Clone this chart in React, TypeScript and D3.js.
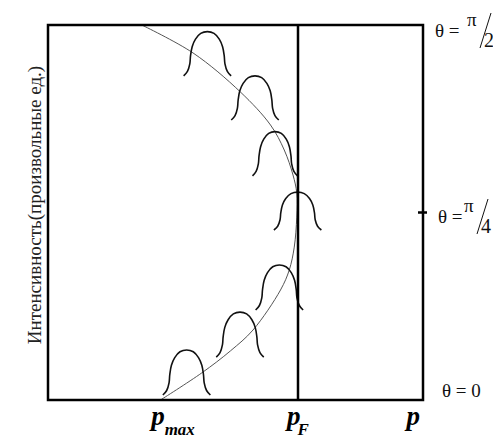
import React from 'react';
import * as d3 from 'd3';

const W = 493;
const H = 439;
const margin = { top: 25, right: 70, bottom: 39, left: 48 };

// thin grey curve: momentum p against angle theta (degrees)
const curveP = [0.75, 1.16, 1.54, 1.78, 1.89, 1.96, 1.99, 1.99, 1.97, 1.93, 1.86, 1.64, 1.46, 1.23, 0.9];
const curveTheta = [90, 83.3, 73.9, 66, 60, 54, 49.7, 43.9, 36.7, 31.2, 26.4, 16.8, 11.8, 6.5, 0];

// bell shaped intensity profiles
const peakP = [1.275, 1.656, 1.816, 1.997, 1.851, 1.536, 1.109];
const peakTheta = [77.8, 67.2, 53.8, 40.8, 21.6, 10.3, 1.2];
const peakHeight = [10.6, 10.6, 10.6, 9.1, 10.8, 10.8, 10.8];
const peakHalfWidth = [0.19, 0.19, 0.18, 0.19, 0.19, 0.19, 0.19];

// normalised shape of one profile (u across, v up)
const profileU = [-1, -0.84, -0.74, -0.71, -0.64, -0.5, -0.28, 0, 0.28, 0.5, 0.64, 0.71, 0.74, 0.84, 1];
const profileV = [0, 0.1, 0.27, 0.45, 0.66, 0.83, 0.96, 1, 0.96, 0.83, 0.66, 0.45, 0.27, 0.1, 0];

const pTicks = [1, 2, 3];
const pTickSubs = ['max', 'F', ''];
const thetaTicks = [0, 45, 90];
const thetaNums = ['0', '4', '2'];

const serif = { fontFamily: 'Liberation Serif, Times New Roman, serif' };

export default function App() {
  const innerW = W - margin.left - margin.right;
  const innerH = H - margin.top - margin.bottom;

  const x = d3.scaleLinear().domain([0, 3]).range([margin.left, margin.left + innerW]);
  const y = d3.scaleLinear().domain([0, 90]).range([margin.top + innerH, margin.top]);

  const line = d3.line<[number, number]>()
    .x(d => x(d[0]))
    .y(d => y(d[1]))
    .curve(d3.curveCatmullRom.alpha(0.5));

  const curvePath = line(curveP.map((p, i) => [p, curveTheta[i]]));

  const peakPaths = peakP.map((p0, i) =>
    line(profileU.map((u, j) => [p0 + u * peakHalfWidth[i], peakTheta[i] + profileV[j] * peakHeight[i]]))
  );

  const right = x(3);
  const bottom = y(0);

  // label placement next to the right edge
  const labelDx = [19, 15, 12];
  const labelDy = [-3, 10.5, 12];
  const fracShift = [0, 6, 0];

  return (
    <svg width={W} height={H} style={{ position: 'absolute', left: 0, top: 0, background: '#fff' }}>
      <path d={curvePath || ''} fill="none" stroke="#555" strokeWidth={1} />
      {peakPaths.map((d, i) => (
        <path key={i} d={d || ''} fill="none" stroke="#111" strokeWidth={1.6} />
      ))}
      <line x1={x(2)} x2={x(2)} y1={y(90)} y2={y(0)} stroke="#000" strokeWidth={2.5} />
      <rect x={x(0)} y={y(90)} width={innerW} height={innerH} fill="none" stroke="#000" strokeWidth={2.5} />
      <line x1={right - 5} x2={right + 4} y1={y(45)} y2={y(45)} stroke="#000" strokeWidth={2.5} />

      {thetaTicks.map((t, i) => {
        const x0 = right + labelDx[i];
        const base = y(t) + labelDy[i];
        if (i === 0) {
          return (
            <text key={i} x={x0} y={base} style={serif} fontSize={19} fill="#111">θ = 0</text>
          );
        }
        const fx = x0 - fracShift[i];
        return (
          <g key={i} style={serif} fill="#111">
            <text x={x0} y={base} fontSize={19}>θ =</text>
            <text x={fx + 32} y={base - 11} fontSize={19}>π</text>
            <line x1={fx + 56} y1={base - 24} x2={fx + 45} y2={base + 11} stroke="#111" strokeWidth={1} />
            <text x={fx + 49} y={base + 10} fontSize={20}>{thetaNums[i]}</text>
          </g>
        );
      })}

      {pTicks.map((p, i) => (
        <text
          key={i}
          x={x(p)}
          y={bottom + 25}
          textAnchor={i === 2 ? 'end' : 'middle'}
          dx={i === 2 ? -3 : 0}
          style={serif}
          fontWeight="bold"
          fontStyle="italic"
          fontSize={27}
          fill="#000"
        >
          p
          {pTickSubs[i] && (
            <tspan fontSize={17} dy={10} dx={i === 1 ? -3 : 0}>{pTickSubs[i]}</tspan>
          )}
        </text>
      ))}

      <text
        transform={`translate(41,205) rotate(-90)`}
        textAnchor="middle"
        style={serif}
        fontSize={19}
        fill="#222"
      >
        Интенсивность(произвольные ед.)
      </text>
    </svg>
  );
}
